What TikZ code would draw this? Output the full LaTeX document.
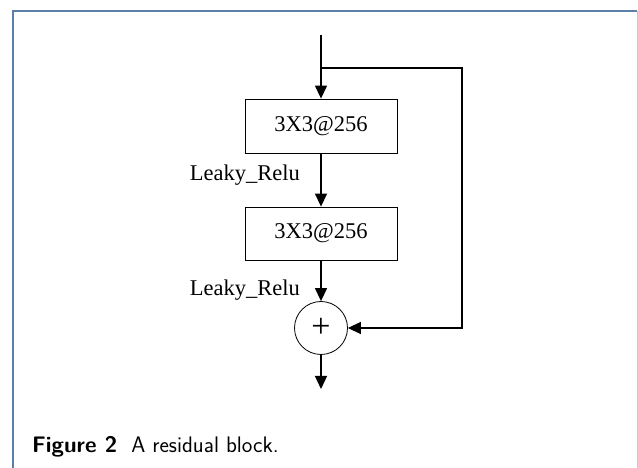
\documentclass[tikz,border=0pt]{standalone}
\usepackage{fontspec}
\setmainfont{Liberation Serif}
\usetikzlibrary{arrows.meta}
\definecolor{frameblue}{RGB}{90,127,168}
\definecolor{framegray}{RGB}{200,204,210}
\tikzset{
  conv/.style={draw, line width=0.8pt, minimum width=152pt, minimum height=54pt, inner sep=0pt, font=\fontsize{22.5}{27}\selectfont},
  sum/.style={draw, circle, line width=0.8pt, minimum size=53pt, inner sep=0pt, font=\fontsize{34}{38}\selectfont},
  flow/.style={line width=1.3pt, -{Triangle[width=12pt,length=13pt]}},
  act/.style={inner sep=0pt, anchor=base east, font=\fontsize{22.5}{27}\selectfont}
}
\begin{document}
\begin{tikzpicture}[x=1pt,y=1pt]
\useasboundingbox (0,0) rectangle (638,468);
% frame
\draw[frameblue, line width=1.4pt] (13,0) -- (13,457) -- (637,457);
\draw[framegray, line width=1pt] (637,457) -- (637,0);
% blocks
\node[conv] (box1) at (321,342) {3X3@256};
\node[conv, minimum height=53pt] (box2) at (321,234.5) {3X3@256};
\node[sum] (sum) at (321,140) {+};
\node[act] (act1) at (300,287) {Leaky\_Relu};
\node[act] (act2) at (300,172) {Leaky\_Relu};
\coordinate (in) at (321,433);
\coordinate (split) at (321,400);
\coordinate (skip) at (462,400);
\coordinate (out) at (321,79);
% connections
\draw[flow] (in) -- (box1);
\draw[flow] (box1) -- (box2);
\draw[flow] (box2) -- (sum);
\draw[flow] (split) -- (skip) |- (sum);
\draw[flow] (sum) -- (out);
% caption
\node[anchor=base west, inner sep=0pt, font=\sffamily\fontsize{22.5}{27}\selectfont] (caption) at (32,15) {\textbf{Figure 2}\ \ A residual block.};
\end{tikzpicture}
\end{document}
